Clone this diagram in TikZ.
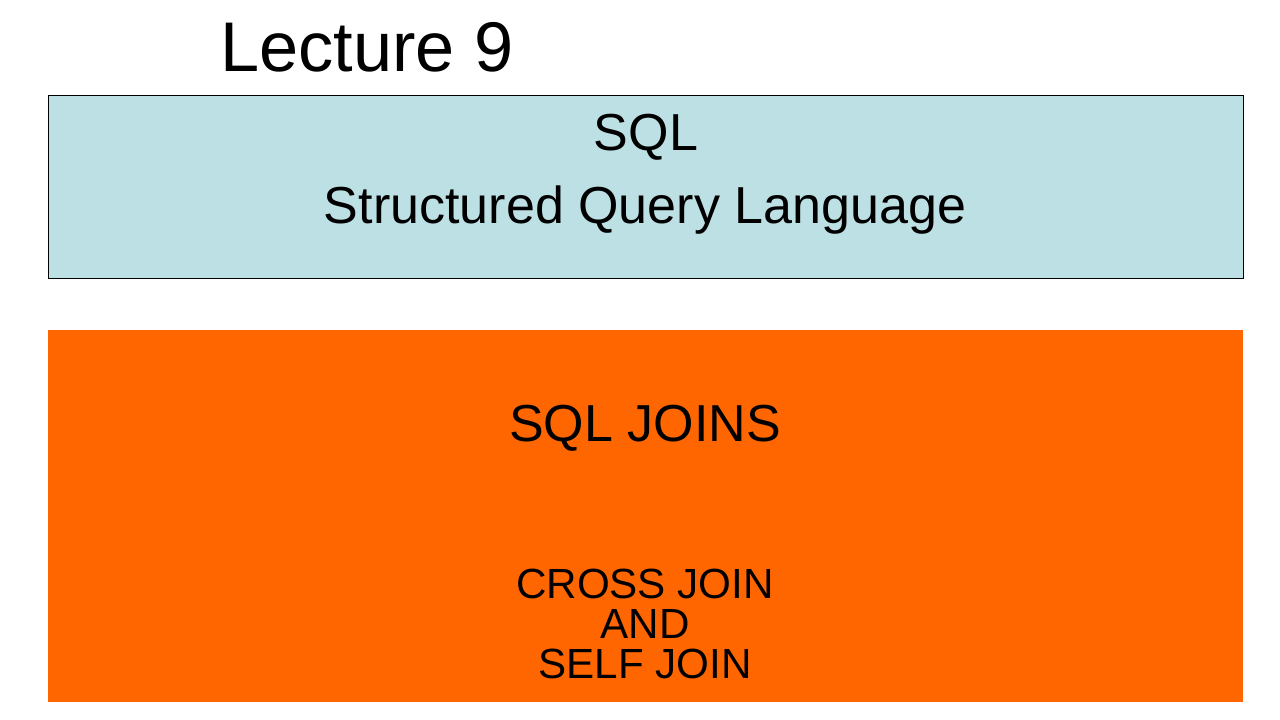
\documentclass[tikz,border=0pt]{standalone}
\usepackage{fontspec}
\setmainfont{Liberation Sans}
\definecolor{boxblue}{HTML}{BDE0E4}
\definecolor{boxorange}{HTML}{FF6600}
\begin{document}
\begin{tikzpicture}[x=0.025cm,y=-0.025cm,
  txt/.style={inner sep=0pt,anchor=center,align=center}]
\useasboundingbox (0,0) rectangle (1280,720);
\fill[white] (0,0) rectangle (1280,720);
\node[txt,font=\fontsize{50}{60}\selectfont] (title) at (367,47) {Lecture 9};
\draw[fill=boxblue,line width=0.6pt] (48,95) rectangle (1243,278);
\node[txt,font=\fontsize{37}{52}\selectfont] (sql) at (646,137) {SQL};
\node[txt,font=\fontsize{37}{52}\selectfont] (sqlfull) at (645,210) {Structured Query Language};
\fill[boxorange] (48,330) rectangle (1243,702);
\node[txt,font=\fontsize{37}{52}\selectfont] (joins) at (645,428) {SQL JOINS};
\node[txt,font=\fontsize{30}{28.5}\selectfont] (sub) at (645,624) {CROSS JOIN\\AND\\SELF JOIN};
\end{tikzpicture}
\end{document}
